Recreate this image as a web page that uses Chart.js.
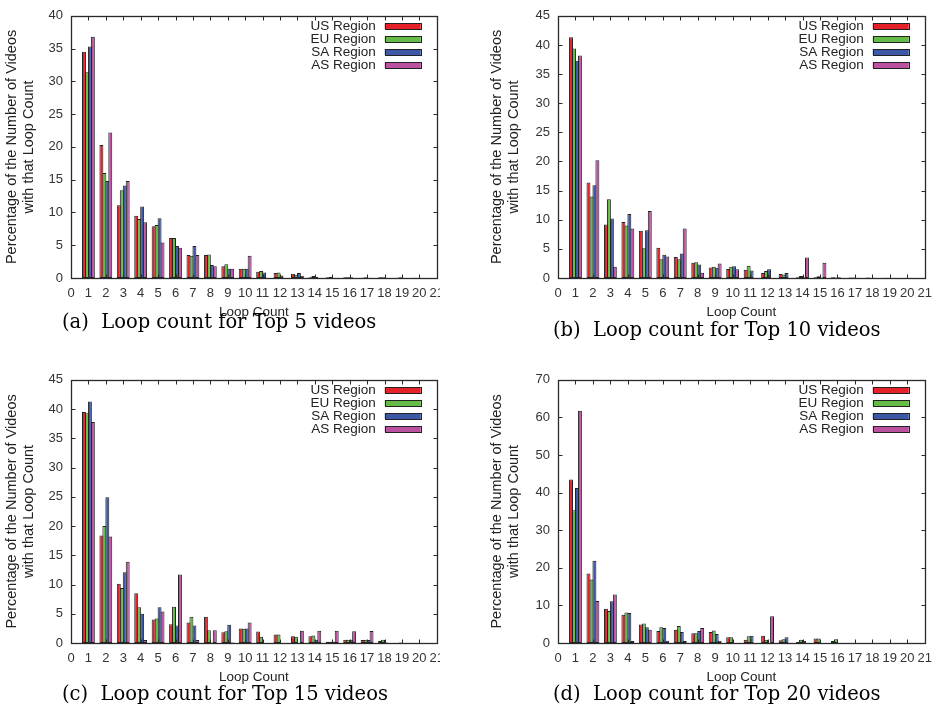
<!DOCTYPE html>
<html>
<head>
<meta charset="utf-8">
<script src="https://cdn.jsdelivr.net/npm/chart.js@4.4.1/dist/chart.umd.min.js"></script>
<style>
body { margin: 0; background: #fff; }
#page { position: relative; width: 943px; height: 712px; overflow: hidden; background: #fff; }
.box { position: absolute; overflow: hidden; }
.cap { position: absolute; font-family: "DejaVu Serif", serif; font-size: 19.5px; line-height: 22px; color: #000; white-space: nowrap; }
</style>
</head>
<body>
<div id="page">
	<div class="box" style="left:0px;top:0px;width:440px;height:320px"><canvas id="top5" width="452" height="320"></canvas></div>
	<div class="box" style="left:485px;top:0px;width:455px;height:320px"><canvas id="top10" width="455" height="320"></canvas></div>
	<div class="box" style="left:0px;top:364px;width:440px;height:321px"><canvas id="top15" width="452" height="321"></canvas></div>
	<div class="box" style="left:485px;top:364px;width:455px;height:321px"><canvas id="top20" width="455" height="321"></canvas></div>

	<div class="cap" style="left:62px;top:311px">(a)&nbsp; Loop count for Top 5 videos</div>
	<div class="cap" style="left:553px;top:319px">(b)&nbsp; Loop count for Top 10 videos</div>
	<div class="cap" style="left:62px;top:683px">(c)&nbsp; Loop count for Top 15 videos</div>
	<div class="cap" style="left:553px;top:683px">(d)&nbsp; Loop count for Top 20 videos</div>
</div>

<script>
// ----------------------- data ----------------------------

var loopCounts = [1, 2, 3, 4, 5, 6, 7, 8, 9, 10, 11, 12, 13, 14, 15, 16, 17, 18, 19, 20];
var regions = ['US Region', 'EU Region', 'SA Region', 'AS Region'];
var regionColors = ['#e52229', '#64bb48', '#3b57a6', '#bb519f'];

// top 5 videos
var top5US = [34.5, 20.3, 11.1, 9.5, 7.9, 6.1, 3.5, 3.5, 1.8, 1.4, 0.95, 0.75, 0.65, 0.1, 0.1, 0.1, 0.05, 0.1, 0.05, 0.05];
var top5EU = [31.4, 16.0, 13.4, 9.0, 8.1, 6.1, 3.4, 3.6, 2.1, 1.4, 1.05, 0.85, 0.5, 0.3, 0.2, 0.1, 0.1, 0.1, 0.1, 0];
var top5SA = [35.3, 14.8, 14.1, 10.9, 9.1, 4.9, 4.9, 2.0, 1.4, 1.4, 0.85, 0.4, 0.75, 0.15, 0.05, 0.1, 0.05, 0.05, 0, 0];
var top5AS = [36.8, 22.2, 14.8, 8.5, 5.4, 4.6, 3.5, 1.8, 1.4, 3.4, 0, 0, 0.35, 0, 0, 0, 0, 0, 0, 0];

// top 10 videos
var top10US = [41.3, 16.4, 9.2, 9.6, 8.1, 5.2, 3.6, 2.6, 1.8, 1.55, 1.4, 0.85, 0.7, 0.15, 0.15, 0.15, 0.1, 0.1, 0.05, 0];
var top10EU = [39.4, 14.0, 13.5, 9.0, 5.1, 3.2, 3.2, 2.7, 1.95, 1.95, 2.1, 1.2, 0.6, 0.35, 0.3, 0.1, 0.1, 0.05, 0.05, 0];
var top10SA = [37.3, 15.9, 10.2, 11.0, 8.2, 4.0, 4.2, 2.3, 1.75, 2.0, 1.3, 1.5, 0.85, 0.15, 0.1, 0.15, 0.05, 0.05, 0, 0];
var top10AS = [38.2, 20.2, 1.95, 8.5, 11.5, 3.7, 8.5, 0.9, 2.5, 1.5, 0, 0, 0, 3.5, 2.6, 0, 0, 0, 0, 0];

// top 15 videos
var top15US = [39.5, 18.4, 10.15, 8.5, 4.0, 3.2, 3.5, 4.5, 1.85, 2.5, 1.95, 1.45, 1.15, 1.15, 0.2, 0.55, 0.5, 0.35, 0, 0];
var top15EU = [39.3, 20.0, 9.4, 6.1, 4.2, 6.2, 4.5, 2.2, 2.0, 2.45, 1.05, 1.45, 1.05, 1.3, 0.2, 0.55, 0.55, 0.55, 0.1, 0];
var top15SA = [41.3, 24.9, 12.1, 5.0, 6.1, 3.0, 3.0, 0.1, 3.1, 2.5, 0, 0, 0, 0.55, 0.2, 0.55, 0.5, 0.1, 0, 0];
var top15AS = [37.8, 18.2, 13.9, 0.5, 5.4, 11.7, 0.5, 2.2, 0.1, 3.5, 0, 0, 2.1, 2.1, 2.1, 2.0, 2.05, 0, 0, 0];

// top 20 videos
var top20US = [43.5, 18.5, 9.1, 7.5, 4.9, 3.2, 3.5, 2.6, 2.9, 1.55, 0.85, 1.9, 0.7, 0.25, 1.2, 0.5, 0, 0, 0, 0];
var top20EU = [35.3, 16.9, 8.5, 8.1, 5.2, 4.2, 4.5, 2.6, 3.3, 1.55, 1.8, 0.85, 1.0, 0.85, 1.2, 1.0, 0, 0, 0, 0];
var top20SA = [41.2, 21.9, 11.1, 8.0, 4.2, 4.0, 2.9, 3.2, 2.4, 0, 1.9, 0, 1.5, 0.6, 0, 0, 0, 0, 0, 0];
var top20AS = [61.8, 11.2, 12.9, 0.5, 3.5, 0.6, 0.5, 4.0, 0.6, 0, 0, 7.1, 0, 0, 0, 0, 0, 0, 0, 0];

var yTitle = ['Percentage of the Number of Videos', 'with that Loop Count'];
var xTitle = 'Loop Count';

// ----------------------- plugins ----------------------------

// gnuplot style box with inward ticks on all four sides
var frame = {
	id: 'frame',
	afterDatasetsDraw: function(chart){
		var ctx = chart.ctx;
		var a = chart.chartArea;
		var xs = chart.scales.x, ys = chart.scales.y;
		var L = Math.round(a.left) + 0.5, R = Math.round(a.right) + 0.5;
		var T = Math.round(a.top) + 0.5, B = Math.round(a.bottom) + 0.5;
		ctx.save();
		ctx.strokeStyle = '#2a2a2a';
		ctx.lineWidth = 1;
		ctx.beginPath();
		xs.ticks.forEach(function(t){
			var px = Math.round(xs.getPixelForValue(t.value)) + 0.5;
			ctx.moveTo(px, B); ctx.lineTo(px, B - 4);
			ctx.moveTo(px, T); ctx.lineTo(px, T + 4);
		});
		ys.ticks.forEach(function(t){
			var py = Math.round(ys.getPixelForValue(t.value)) + 0.5;
			ctx.moveTo(L, py); ctx.lineTo(L + 4, py);
			ctx.moveTo(R, py); ctx.lineTo(R - 4, py);
		});
		ctx.stroke();
		ctx.lineWidth = 1.3;
		ctx.strokeRect(L, T, R - L, B - T);
		ctx.restore();
	}
};

// legend: label right aligned, colour swatch after it
var keyBox = {
	id: 'keyBox',
	afterDraw: function(chart){
		var ctx = chart.ctx;
		var a = chart.chartArea;
		ctx.save();
		ctx.font = '13.5px "Liberation Sans", Arial, sans-serif';
		ctx.textAlign = 'right';
		ctx.textBaseline = 'middle';
		chart.data.datasets.forEach(function(ds, i){
			var y = Math.round(a.top + 10 + i * 13);
			ctx.fillStyle = '#222';
			ctx.fillText(ds.label, a.right - 61, y);
			ctx.fillStyle = ds.backgroundColor;
			ctx.fillRect(a.right - 52, y - 3, 36, 6);
			ctx.strokeStyle = '#222';
			ctx.lineWidth = 1;
			ctx.strokeRect(Math.round(a.right - 52) + 0.5, y - 3 + 0.5, 36, 6);
		});
		ctx.restore();
	}
};

// ----------------------- charts ----------------------------

function points(vals){
	return loopCounts.map(function(c, i){ return {x: c, y: vals[i]}; });
}

function makeChart(id, series, yMax, yStep, yWidth){
	var datasets = series.map(function(vals, i){
		return {
			label: regions[i],
			data: points(vals),
			backgroundColor: regionColors[i],
			borderColor: '#222',
			borderWidth: 1,
			borderSkipped: false,
			// neighbouring bars share one border line, like gnuplot
			categoryPercentage: 0.68,
			barPercentage: 1.33
		};
	});
	var tickFont = { family: '"Liberation Sans", Arial, sans-serif', size: 13 };
	var titleFont = { family: '"Liberation Sans", Arial, sans-serif', size: 14.5 };
	return new Chart(document.getElementById(id), {
		type: 'bar',
		data: { datasets: datasets },
		options: {
			responsive: false,
			animation: false,
			layout: { padding: { left: 0, right: 8, top: 10, bottom: 0 } },
			plugins: { legend: { display: false }, tooltip: { enabled: false } },
			scales: {
				x: {
					type: 'linear',
					min: 0,
					max: 21,
					offset: false,
					grid: { display: false, drawTicks: false },
					border: { display: false },
					ticks: { stepSize: 1, autoSkip: false, maxRotation: 0, padding: 8, color: '#333', font: tickFont },
					title: { display: true, text: xTitle, color: '#222', font: { family: '"Liberation Sans", Arial, sans-serif', size: 13.5 }, padding: { top: 0, bottom: 0 } },
					afterFit: function(s){ s.height = 42; }
				},
				y: {
					min: 0,
					max: yMax,
					grid: { display: false, drawTicks: false },
					border: { display: false },
					ticks: { stepSize: yStep, padding: 8, color: '#333', font: tickFont },
					title: { display: true, text: yTitle, color: '#222', font: titleFont, padding: { top: 3, bottom: 0 } },
					afterFit: function(s){ s.width = yWidth; }
				}
			}
		},
		plugins: [frame, keyBox]
	});
}

makeChart('top5', [top5US, top5EU, top5SA, top5AS], 40, 5, 71);
makeChart('top10', [top10US, top10EU, top10SA, top10AS], 45, 5, 73);
makeChart('top15', [top15US, top15EU, top15SA, top15AS], 45, 5, 71);
makeChart('top20', [top20US, top20EU, top20SA, top20AS], 70, 10, 73);
</script>
</body>
</html>
